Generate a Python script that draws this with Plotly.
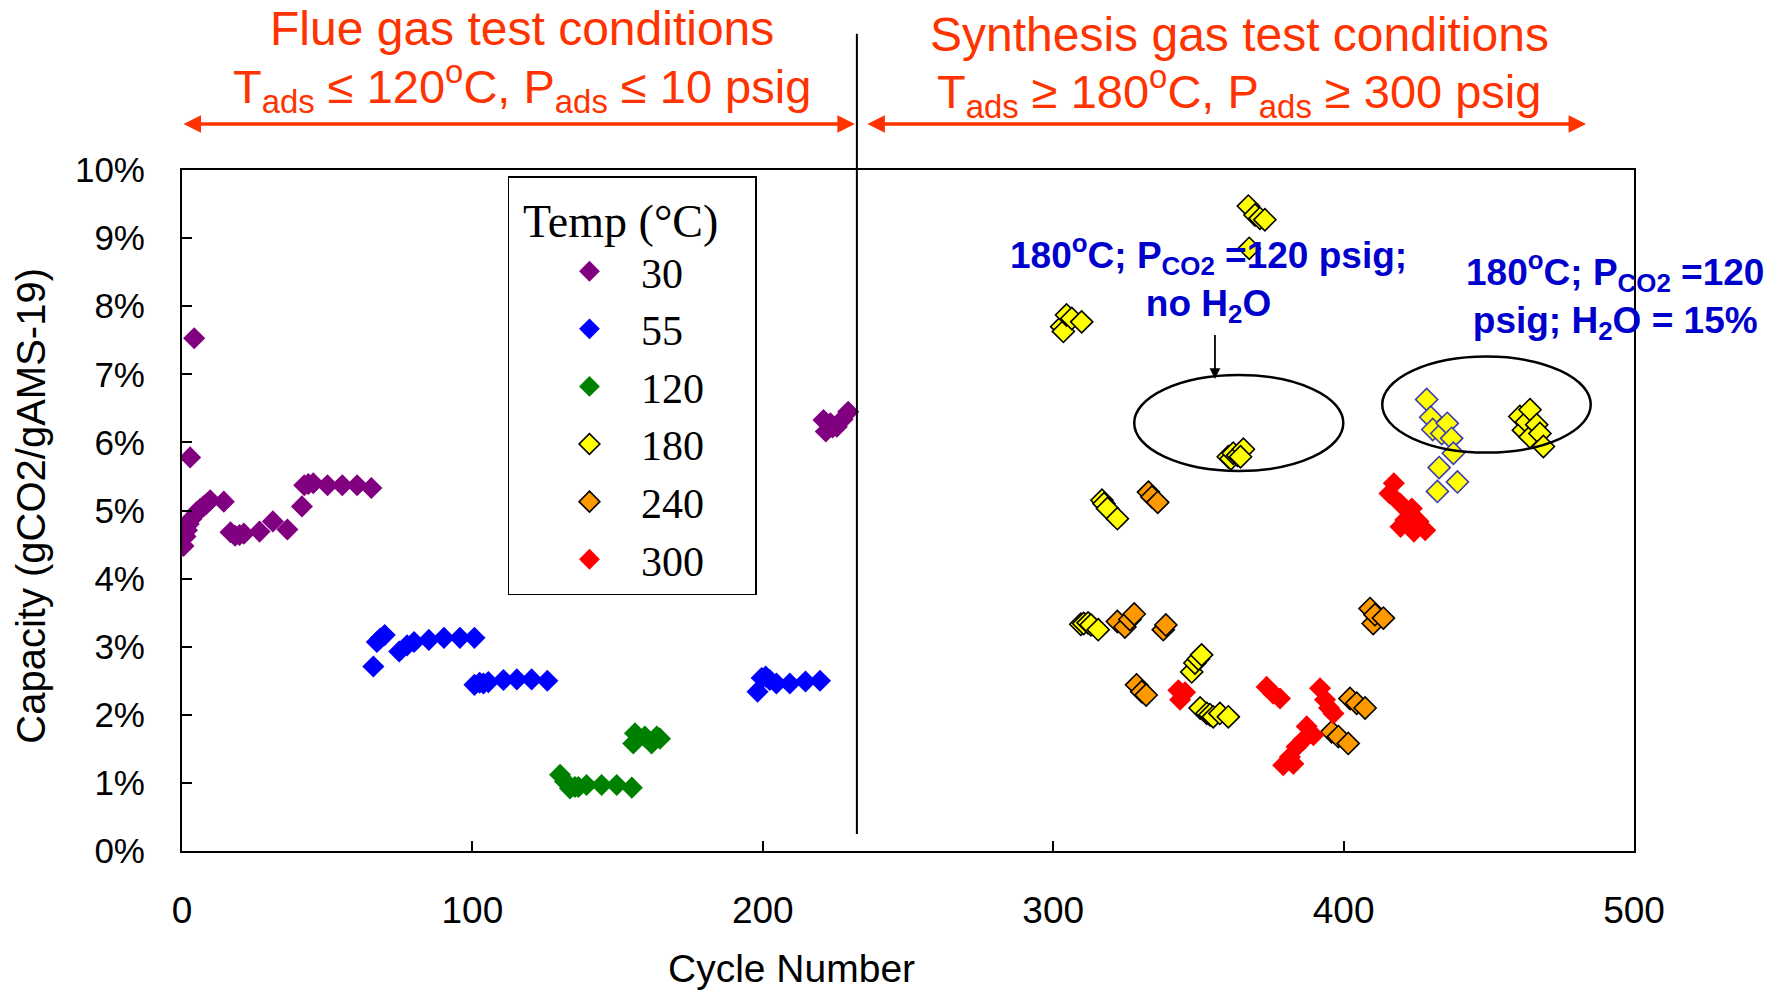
import plotly.graph_objects as go

# ---- capacity vs. cycle number, grouped by adsorption temperature (°C) ----
cyc_30 = [0.5, 1.2, 1.7, 2.3, 2.8, 3.3, 4.2, 5.1, 6.2, 7.4, 8.5, 9.7, 14.4, 16.7, 18.3, 19.8,
          21.3, 26.7, 31.3, 36.3, 41.3, 42.1, 43.5, 45.2, 50.1, 55.2, 60.3, 65.2,
          220.9, 221.7, 223.3, 224.0, 225.5, 227.5, 229.4]
cap_30 = [4.48, 4.62, 4.71, 4.80, 5.78, 4.88, 7.53, 4.98, 5.02, 5.06, 5.10, 5.15, 5.13, 4.68, 4.63, 4.64,
          4.66, 4.69, 4.84, 4.72, 5.06, 5.37, 5.39, 5.40, 5.37, 5.37, 5.37, 5.33,
          6.33, 6.16, 6.28, 6.22, 6.23, 6.34, 6.45]

cyc_55 = [65.9, 67.1, 68.3, 69.8, 74.8, 77.5, 79.9, 85.0, 90.2, 95.7, 100.7,
          100.7, 102.5, 103.8, 105.5, 110.7, 115.3, 120.4, 125.8,
          198.2, 199.6, 201.0, 202.4, 204.7, 209.3, 214.7, 219.7]
cap_55 = [2.71, 3.07, 3.12, 3.17, 2.93, 3.02, 3.07, 3.10, 3.13, 3.13, 3.13,
          2.44, 2.47, 2.46, 2.48, 2.51, 2.52, 2.52, 2.50,
          2.34, 2.54, 2.56, 2.51, 2.46, 2.46, 2.49, 2.50]

cyc_120 = [130.2, 131.9, 133.6, 135.3, 136.5, 139.3, 144.5, 149.7, 154.9,
           155.4, 156.0, 159.4, 161.7, 163.5, 164.6]
cap_120 = [1.12, 1.02, 0.92, 0.94, 0.94, 0.97, 0.97, 0.97, 0.93,
           1.58, 1.73, 1.68, 1.58, 1.68, 1.65]

cyc_180 = [367.2, 369.5, 371.2, 372.9, 367.5,
           302.9, 303.5, 304.6, 306.4, 309.8,
           360.3, 361.2, 362.0, 363.5, 365.5, 364.5,
           316.8, 317.5, 318.7, 322.1,
           309.5, 310.5, 312.0, 313.0, 315.5,
           347.7, 348.8, 350.0, 351.1,
           350.6, 352.9, 354.0, 355.1, 357.4, 360.3,
           460.7, 461.9, 463.0, 464.2, 464.2, 466.5, 467.6, 468.8]
cap_180 = [9.47, 9.34, 9.29, 9.27, 8.85,
           7.70, 7.63, 7.87, 7.82, 7.77,
           5.79, 5.76, 5.84, 5.81, 5.90, 5.79,
           5.15, 5.10, 5.03, 4.88,
           3.33, 3.34, 3.35, 3.32, 3.25,
           2.63, 2.76, 2.82, 2.88,
           2.10, 2.02, 2.00, 1.97, 2.02, 1.97,
           6.38, 6.18, 6.30, 6.48, 6.08, 6.26, 6.13, 5.94]

# 180 °C cycles run with 15% H2O in the feed
cyc_180_h2o = [428.6, 430.0, 430.7, 433.8, 435.7, 437.2, 437.8, 432.9, 439.2, 432.3]
cap_180_h2o = [6.63, 6.37, 6.19, 6.13, 6.28, 6.06, 5.84, 5.63, 5.42, 5.28]

cyc_240 = [332.8, 334.0, 336.0,
           322.1, 324.7, 326.4, 327.9,
           337.9, 338.8,
           328.7, 330.5, 332.0,
           409.1, 410.2, 410.8, 413.7,
           402.2, 404.5, 407.4,
           395.9, 398.2, 401.6]
cap_240 = [5.27, 5.20, 5.12,
           3.37, 3.29, 3.40, 3.48,
           3.25, 3.32,
           2.44, 2.34, 2.29,
           3.56, 3.34, 3.47, 3.42,
           2.24, 2.17, 2.10,
           1.75, 1.68, 1.58]

cyc_300 = [343.1, 343.7, 345.4,
           373.5, 375.8, 378.1,
           391.9, 393.6, 395.0, 396.5,
           387.3, 389.6, 386.1, 383.8, 381.5, 379.2, 382.7,
           415.8, 417.3, 419.6, 423.5, 421.2, 425.8, 419.6, 424.2, 428.1]
cap_300 = [2.36, 2.22, 2.33,
           2.41, 2.31, 2.24,
           2.39, 2.22, 2.10, 2.02,
           1.83, 1.70, 1.63, 1.53, 1.38, 1.26, 1.28,
           5.25, 5.40, 5.10, 5.03, 4.86, 4.84, 4.76, 4.69, 4.71]

x_ticks = [0, 100, 200, 300, 400, 500]
y_ticks = [0, 1, 2, 3, 4, 5, 6, 7, 8, 9, 10]
y_tick_labels = [f"{v}%" for v in y_ticks]

# boundary between flue-gas and synthesis-gas campaigns
split_cycle = 232.4

SANS = "Liberation Sans, Arial, sans-serif"
SERIF = "Liberation Serif, Times New Roman, serif"
TITLE_RED = "rgb(255,51,0)"
NOTE_BLUE = "rgb(0,0,204)"
MS = 17
NB = "\u00a0"

series = [
    ("30", cyc_30, cap_30, "#800080", None),
    ("55", cyc_55, cap_55, "#0000ff", None),
    ("120", cyc_120, cap_120, "#008000", None),
    ("180", cyc_180, cap_180, "#ffff00", "#000000"),
    ("240", cyc_240, cap_240, "#ff9900", "#000000"),
    ("300", cyc_300, cap_300, "#ff0000", None),
]

fig = go.Figure()
for name, xs, ys, fill, edge in series:
    fig.add_trace(go.Scatter(
        x=xs, y=ys, mode="markers", name=NB * 3 + name,
        marker=dict(symbol="diamond", size=MS, color=fill,
                    line=dict(color=edge if edge else fill, width=1.6 if edge else 0)),
    ))
    if name == "180":
        fig.add_trace(go.Scatter(
            x=cyc_180_h2o, y=cap_180_h2o, mode="markers", name="180 (15% H2O)",
            showlegend=False,
            marker=dict(symbol="diamond", size=MS, color="#ffff00",
                        line=dict(color="#3c3cb4", width=1.6)),
        ))

# campaign divider
fig.add_shape(type="line", xref="x", yref="paper", x0=split_cycle, x1=split_cycle,
              y0=0.025, y1=1.2, line=dict(color="black", width=2))

# ellipses around the 180 °C / PCO2 = 120 psig runs
fig.add_shape(type="circle", xref="x", yref="y", x0=327.9, x1=399.9, y0=5.58, y1=6.99,
              line=dict(color="black", width=2.5))
fig.add_shape(type="circle", xref="x", yref="y", x0=413.3, x1=485.1, y0=5.85, y1=7.26,
              line=dict(color="black", width=2.5))

annotations = []
# double-headed span arrows for the two test campaigns
for x_head, x_tail in [(231.7, 0.0), (483.5, 235.5)]:
    annotations.append(dict(
        xref="x", yref="paper", x=x_head, y=1.0675, axref="x", ayref="pixel",
        ax=x_tail, ay=0, showarrow=True, arrowhead=2, startarrowhead=2,
        arrowside="end+start", arrowsize=1.0, startarrowsize=1.0,
        arrowwidth=3.5, arrowcolor=TITLE_RED, text=""))

title_font = dict(family=SANS, size=48, color=TITLE_RED)
annotations += [
    dict(xref="paper", yref="paper", x=0.234, y=1.2085, xanchor="center", yanchor="middle",
         showarrow=False, text="Flue gas test conditions", font=title_font),
    dict(xref="paper", yref="paper", x=0.234, y=1.1225, xanchor="center", yanchor="middle",
         showarrow=False,
         text="T<sub>ads</sub> ≤ 120<sup>o</sup>C, P<sub>ads</sub> ≤ 10 psig",
         font=dict(family=SANS, size=47, color=TITLE_RED)),
    dict(xref="paper", yref="paper", x=0.728, y=1.1997, xanchor="center", yanchor="middle",
         showarrow=False, text="Synthesis gas test conditions", font=title_font),
    dict(xref="paper", yref="paper", x=0.728, y=1.1155, xanchor="center", yanchor="middle",
         showarrow=False,
         text="T<sub>ads</sub> ≥ 180<sup>o</sup>C, P<sub>ads</sub> ≥ 300 psig",
         font=dict(family=SANS, size=47, color=TITLE_RED)),
    dict(xref="x", yref="y", x=353.6, y=8.41, xanchor="center", yanchor="middle",
         showarrow=False,
         text="<b>180<sup>o</sup>C; P<sub>CO2</sub> =120 psig;<br>no H<sub>2</sub>O</b>",
         font=dict(family=SANS, size=37, color=NOTE_BLUE)),
    dict(xref="x", yref="y", x=493.5, y=8.16, xanchor="center", yanchor="middle",
         showarrow=False,
         text="<b>180<sup>o</sup>C; P<sub>CO2</sub> =120<br>psig; H<sub>2</sub>O = 15%</b>",
         font=dict(family=SANS, size=37, color=NOTE_BLUE)),
    # pointer into the no-H2O ellipse
    dict(xref="x", yref="y", x=355.7, y=6.93, axref="x", ayref="y", ax=355.7, ay=7.60,
         showarrow=True, arrowhead=2, arrowsize=1.2, arrowwidth=1.8, arrowcolor="black", text=""),
    # axis titles, placed freely outside the plot area
    dict(xref="paper", yref="paper", x=0.42, y=-0.172, xanchor="center", yanchor="middle",
         showarrow=False, text="Cycle Number",
         font=dict(family=SANS, size=39, color="black")),
    dict(xref="paper", yref="paper", x=-0.104, y=0.507, xanchor="center", yanchor="middle",
         showarrow=False, textangle=-90, text="Capacity (gCO2/gAMS-19)",
         font=dict(family=SANS, size=40, color="black")),
]

fig.update_layout(
    width=1783, height=992,
    margin=dict(l=182, r=149, t=170, b=141),
    paper_bgcolor="white", plot_bgcolor="white",
    showlegend=True,
    legend=dict(
        x=0.2245, y=0.991, xanchor="left", yanchor="top",
        bgcolor="white", bordercolor="black", borderwidth=1.5,
        title=dict(text=NB + "Temp (°C)" + NB * 3,
                   font=dict(family=SERIF, size=46, color="black")),
        font=dict(family=SERIF, size=42, color="black"),
        indentation=60, itemsizing="trace",
    ),
    annotations=annotations,
    xaxis=dict(
        range=[0, 500], tickvals=x_ticks, ticks="inside", ticklen=10, tickwidth=1.5,
        tickcolor="black", showline=True, linecolor="black", linewidth=2, mirror=True,
        showgrid=False, zeroline=False, ticklabelstandoff=26, automargin=False,
        tickfont=dict(family=SANS, size=37, color="black"),
    ),
    yaxis=dict(
        range=[0, 10], tickvals=y_ticks, ticktext=y_tick_labels, ticks="inside", ticklen=10,
        tickwidth=1.5, tickcolor="black", showline=True, linecolor="black", linewidth=2,
        mirror=True, showgrid=False, zeroline=False, ticklabelstandoff=28, automargin=False,
        tickfont=dict(family=SANS, size=35, color="black"),
    ),
)

fig.write_html("out.html")
